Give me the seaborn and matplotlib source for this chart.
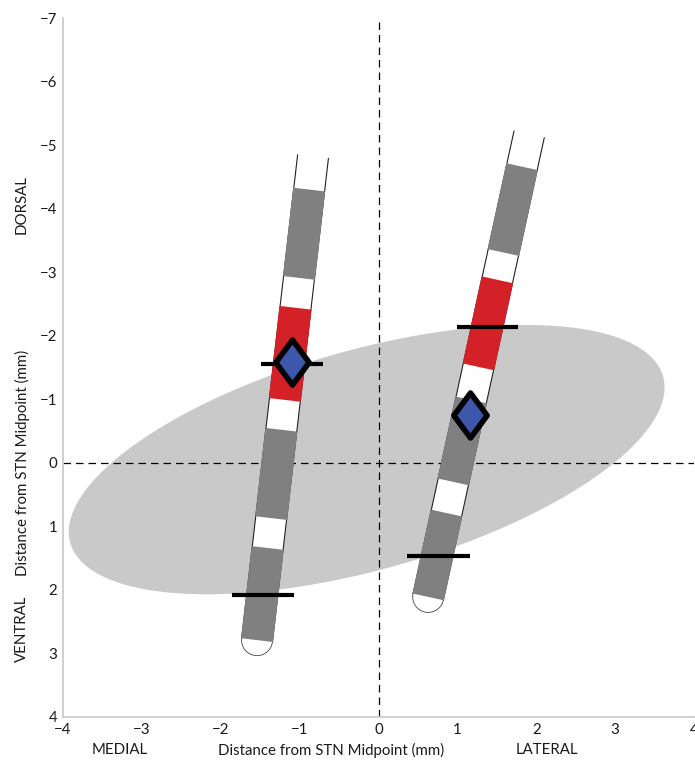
import numpy as np
import matplotlib
matplotlib.use("Agg")
import matplotlib.pyplot as plt
import matplotlib.transforms as mtransforms
from matplotlib.path import Path
from matplotlib.markers import MarkerStyle
import seaborn as sns

# ---------------- data ----------------
x_ticks = [-4, -3, -2, -1, 0, 1, 2, 3, 4]
y_ticks = [-7, -6, -5, -4, -3, -2, -1, 0, 1, 2, 3, 4]

# STN ellipse (center and conjugate semi-axis vectors, mm)
ellipse_center = (-0.15, -0.05)
ellipse_major = (3.758, -1.309)
ellipse_minor = (0.376, 1.666)

# leads: tip point, top point (mm)
left_tip = (-1.54, 2.79)
left_top = (-0.83, -4.82)
right_tip = (0.63, 2.11)
right_top = (1.91, -5.17)

# contact spans (depth in mm, along y) and their colours
left_contacts = [(1.34, 2.79), (-0.52, 0.87), (-2.44, -0.99), (-4.30, -2.91)]
left_contact_active = [False, False, True, False]
right_contacts = [(0.79, 2.11), (-0.99, 0.30), (-2.88, -1.51), (-4.66, -3.31)]
right_contact_active = [False, False, True, False]

# stimulation centroid markers
diamond_x = [-1.10, 1.16]
diamond_y = [-1.59, -0.76]

# STN border crossings (horizontal bars)
bar_y = [-1.55, 2.08, -2.13, 1.46]
bar_x0 = [-1.49, -1.86, 0.99, 0.36]
bar_x1 = [-0.70, -1.07, 1.77, 1.16]

GRAY = "#808080"
RED = "#d42027"
ELL = "#c9c9c9"
BLUE = "#3d57ab"
TXT = "#1a1a1a"
FS = 10.8

# ---------------- figure ----------------
sns.set_style("white")
plt.rcParams["font.family"] = ["Lato", "DejaVu Sans"]
W, H = 695, 761
fig = plt.figure(figsize=(W / 100, H / 100), dpi=100)
ax = fig.add_axes([63 / W, 1 - 717 / H, (694 - 63) / W, (717 - 18) / H])
ax.set_xlim(-4, 4)
ax.set_ylim(4, -7)

ax_w_px = (694 - 63)
ax_h_px = (717 - 18)
sx = ax_w_px / 8.0
sy = ax_h_px / 11.0

# ellipse
t = np.linspace(0, 2 * np.pi, 400)
ex = ellipse_center[0] + np.cos(t) * ellipse_major[0] + np.sin(t) * ellipse_minor[0]
ey = ellipse_center[1] + np.cos(t) * ellipse_major[1] + np.sin(t) * ellipse_minor[1]
ax.fill(ex, ey, color=ELL, lw=0, zorder=1)

# reference dashed lines
ax.axhline(0, color="black", lw=0.9, ls=(0, (6, 4)), zorder=2)
ax.axvline(0, color="black", lw=0.9, ls=(0, (6, 4)), zorder=2)


def to_px(x, y):
    return np.array([x * sx, -y * sy])


def to_data(p):
    return p[0] / sx, -p[1] / sy


def draw_lead(tip, top, contacts, active, halfw=15.5):
    T = to_px(*tip)
    P = to_px(*top)
    d = (P - T) / np.linalg.norm(P - T)
    n = np.array([-d[1], d[0]])

    def center(yv):
        tt = (yv - tip[1]) / (top[1] - tip[1])
        return T + tt * (P - T)

    # white body
    corners = [T + n * halfw, P + n * halfw, P - n * halfw, T - n * halfw]
    xs, ys = zip(*[to_data(c) for c in corners])
    ax.fill(xs, ys, color="white", lw=0, zorder=3)
    # side lines
    for s in (1, -1):
        a = to_data(T + s * n * halfw)
        b = to_data(P + s * n * halfw)
        ax.plot([a[0], b[0]], [a[1], b[1]], color="#222222", lw=0.8, zorder=4)
    # rounded tip
    ang0 = np.arctan2(n[1], n[0])
    th = np.linspace(ang0, ang0 + np.pi, 60)
    arc = [T + halfw * np.array([np.cos(a_), np.sin(a_)]) for a_ in th]
    cx, cy = zip(*[to_data(c) for c in arc])
    ax.fill(cx, cy, color="white", lw=0, zorder=3)
    ax.plot(cx, cy, color="#444444", lw=0.6, zorder=4)
    # contacts
    for (y0, y1), act in zip(contacts, active):
        c0, c1 = center(y0), center(y1)
        w = halfw + 0.6
        corners = [c0 + n * w, c1 + n * w, c1 - n * w, c0 - n * w]
        xs, ys = zip(*[to_data(c) for c in corners])
        ax.fill(xs, ys, color=RED if act else GRAY, lw=0, zorder=5)


draw_lead(left_tip, left_top, left_contacts, left_contact_active)
draw_lead(right_tip, right_top, right_contacts, right_contact_active)

# border bars
ax.hlines(bar_y, bar_x0, bar_x1, color="black", lw=3, zorder=6)

# diamonds
diamond = MarkerStyle(Path([(0, 1), (0.74, 0), (0, -1), (-0.74, 0), (0, 1)],
                           [Path.MOVETO, Path.LINETO, Path.LINETO, Path.LINETO, Path.CLOSEPOLY]))
sns.scatterplot(x=diamond_x, y=diamond_y, marker=diamond, s=1050, color=BLUE,
                edgecolor="black", linewidth=4, zorder=7, ax=ax, legend=False)

# axes styling
for side in ("top", "right"):
    ax.spines[side].set_visible(False)
for side in ("left", "bottom"):
    ax.spines[side].set_color("#cccccc")
    ax.spines[side].set_linewidth(1.3)
ax.set_xticks(x_ticks)
ax.set_yticks(y_ticks)
ax.tick_params(axis="both", direction="in", length=4, width=0.8, color="#aaaaaa",
               labelsize=FS, labelcolor=TXT)
ax.tick_params(axis="x", pad=4)
ax.tick_params(axis="y", pad=4)
ax.set_xlabel("")
ax.set_ylabel("")

# side annotations
ty = mtransforms.blended_transform_factory(fig.transFigure, ax.transData)
ax.text(22 / W, 0.0, "Distance from STN Midpoint (mm)", transform=ty, rotation=90,
        ha="center", va="center", fontsize=FS, color=TXT)
ax.text(22 / W, -4.06, "DORSAL", transform=ty, rotation=90,
        ha="center", va="center", fontsize=FS, color=TXT)
ax.text(22 / W, 2.61, "VENTRAL", transform=ty, rotation=90,
        ha="center", va="center", fontsize=FS, color=TXT)
tx = mtransforms.blended_transform_factory(ax.transData, fig.transFigure)
yb = 1 - 750 / H
ax.text(-3.28, yb, "MEDIAL", transform=tx, ha="center", va="center", fontsize=FS, color=TXT)
ax.text(-0.60, yb, "Distance from STN Midpoint (mm)", transform=tx, ha="center", va="center",
        fontsize=FS, color=TXT)
ax.text(2.13, yb, "LATERAL", transform=tx, ha="center", va="center", fontsize=FS, color=TXT)

fig.savefig("out.png", dpi=100)
